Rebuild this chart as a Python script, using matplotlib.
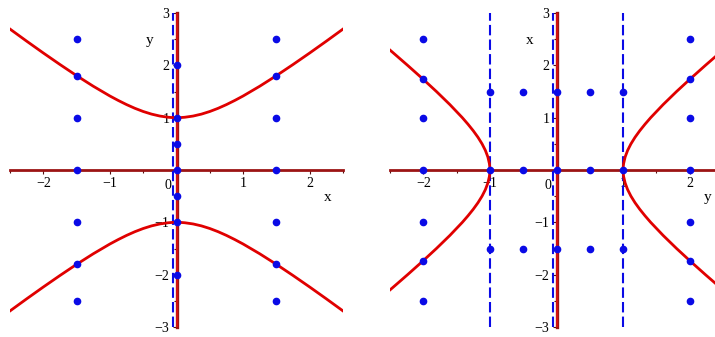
import matplotlib
matplotlib.use("Agg")
import numpy as np
from matplotlib import pyplot as plt
from matplotlib.ticker import MultipleLocator

# curve y = +-sqrt(1 + x^2)
curve_x = [-3.0, -2.75, -2.5, -2.25, -2.0, -1.75, -1.5, -1.25, -1.0, -0.875, -0.75, -0.625, -0.5, -0.375,
           -0.25, -0.125, -0.0625, 0.0, 0.0625, 0.125, 0.25, 0.375, 0.5, 0.625, 0.75, 0.875, 1.0, 1.25,
           1.5, 1.75, 2.0, 2.25, 2.5, 2.75, 3.0]
curve_y = [3.162, 2.926, 2.693, 2.462, 2.236, 2.016, 1.803, 1.601, 1.414, 1.329, 1.250, 1.179, 1.118, 1.068,
           1.031, 1.008, 1.002, 1.0, 1.002, 1.008, 1.031, 1.068, 1.118, 1.179, 1.250, 1.329, 1.414, 1.601,
           1.803, 2.016, 2.236, 2.462, 2.693, 2.926, 3.162]

# left panel points (x, y)
left_dots_x = [-1.5] * 7 + [0] * 7 + [1.5] * 7
left_dots_y = [2.5, 1.8, 1, 0, -1, -1.8, -2.5,
               2, 1, 0.5, 0, -0.5, -1, -2,
               2.5, 1.8, 1, 0, -1, -1.8, -2.5]
left_dashed = [-0.05]

# right panel points (horizontal = y, vertical = x)
right_dots_h = [-2] * 7 + [-1, -0.5, 0, 0.5, 1] * 3 + [2] * 7
right_dots_v = ([2.5, 1.73, 1, 0, -1, -1.73, -2.5]
                + [1.5] * 5 + [0] * 5 + [-1.5] * 5
                + [2.5, 1.73, 1, 0, -1, -1.73, -2.5])
right_dashed = [-1, -0.05, 1]

xticks = [-2, -1, 1, 2]
yticks = [-3, -2, -1, 1, 2, 3]

AXIS_RED = "#9c1414"
CURVE_RED = "#e00000"
BLUE = "#0a0ae6"
FONT = "Liberation Serif"

plt.rcParams["font.family"] = FONT
plt.rcParams["axes.unicode_minus"] = True


def setup_axes(ax, hlabel, vlabel):
    ax.set_xlim(-2.5, 2.5)
    ax.set_ylim(-3, 3)
    for s in ("top", "right"):
        ax.spines[s].set_visible(False)
    ax.spines["bottom"].set_position(("data", 0))
    ax.spines["left"].set_position(("data", 0))
    ax.spines["bottom"].set_color(AXIS_RED)
    ax.spines["left"].set_color(AXIS_RED)
    ax.spines["bottom"].set_linewidth(2.0)
    ax.spines["left"].set_linewidth(2.4)
    ax.set_xticks(xticks)
    ax.set_yticks(yticks)
    ax.xaxis.set_minor_locator(MultipleLocator(0.5))
    ax.yaxis.set_minor_locator(MultipleLocator(0.5))
    ax.tick_params(which="both", direction="out", color="#501010", width=0.8)
    ax.tick_params(which="major", length=3, labelsize=10, pad=2)
    ax.tick_params(which="minor", length=2)
    ax.patch.set_visible(False)
    ax.annotate("0", xy=(0, 0), xytext=(-6, -11), textcoords="offset points",
                ha="center", va="center", fontsize=10)
    ax.text(-0.4, 2.47, vlabel, ha="center", va="center", fontsize=11)
    ax.text(2.27, -0.52, hlabel, ha="center", va="center", fontsize=11)
    # red line drawn over the vertical axis
    ax.plot([0, 0], [-3, 3], color="#e01010", lw=1.2, zorder=3, solid_capstyle="butt")


fig = plt.figure(figsize=(7.15, 3.37), dpi=100)
ax1 = fig.add_axes([10 / 715, 10 / 337, 333 / 715, 314 / 337])
ax2 = fig.add_axes([390 / 715, 10 / 337, 333 / 715, 314 / 337])

# left panel
setup_axes(ax1, "x", "y")
cx = np.array(curve_x)
cy = np.array(curve_y)
ax1.plot(cx, cy, color=CURVE_RED, lw=2, zorder=3)
ax1.plot(cx, -cy, color=CURVE_RED, lw=2, zorder=3)
for d in left_dashed:
    ax1.plot([d, d], [-3, 3], color=BLUE, lw=1.5, dashes=(5, 2), zorder=2.8)
ax1.plot(left_dots_x, left_dots_y, "o", color=BLUE, ms=4.5, zorder=5, clip_on=False)

# right panel
setup_axes(ax2, "y", "x")
ax2.plot(cy, cx, color=CURVE_RED, lw=2, zorder=3)
ax2.plot(-cy, cx, color=CURVE_RED, lw=2, zorder=3)
for d in right_dashed:
    ax2.plot([d, d], [-3, 3], color=BLUE, lw=1.5, dashes=(5, 2), zorder=2.8)
ax2.plot(right_dots_h, right_dots_v, "o", color=BLUE, ms=4.5, zorder=5, clip_on=False)

fig.savefig("out.png", dpi=100)
